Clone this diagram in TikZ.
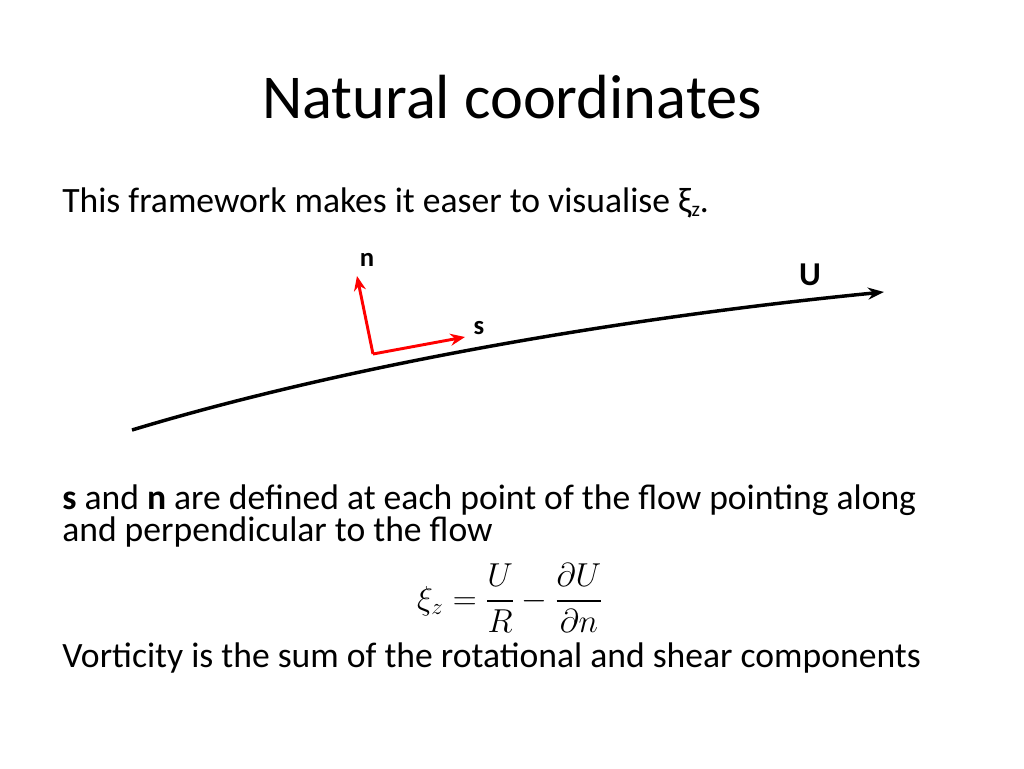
\documentclass[tikz,border=0pt]{standalone}
\usepackage{fontspec}
\setmainfont{Carlito}
\usepackage{amsmath}
\usetikzlibrary{arrows.meta}
\begin{document}
\begin{tikzpicture}[x=0.75pt,y=-0.75pt,
  body/.style={anchor=base west,inner sep=0pt,font=\fontsize{26.7}{28}\selectfont},
  vec/.style={red,line width=2.2pt,-{Stealth[length=11pt,width=9pt]}}]
\useasboundingbox (0,0) rectangle (1024,768);
\node[inner sep=0pt,font=\fontsize{46.8}{52}\selectfont] (title) at (512,97) {Natural coordinates};
\node[body] (t1) at (62,212) {This framework makes it easer to visualise ξ{\fontsize{16}{18}\selectfont\raisebox{-3pt}{z}}.};
\coordinate (c0) at (132,430);
\coordinate (c1) at (884,292);
\draw[line width=2.6pt,-{Stealth[length=12pt,width=9pt]}] (c0) .. controls (330,370) and (600,320) .. (c1);
\coordinate (o) at (373,354);
\coordinate (nt) at (357,276);
\coordinate (st) at (465,337);
\draw[vec] (o) -- (nt);
\draw[vec] (o) -- (st);
\node[font=\fontsize{20}{24}\selectfont\bfseries] (nl) at (367,260) {n};
\node[font=\fontsize{20}{24}\selectfont\bfseries] (sl) at (479,328) {s};
\node[font=\fontsize{25}{28}\selectfont\bfseries] (ul) at (810,275) {U};
\node[body] (t2) at (62,509) {\textbf{s} and \textbf{n} are defined at each point of the flow pointing along};
\node[body] (t3) at (62,541) {and perpendicular to the flow};
\node[inner sep=0pt,font=\fontsize{25}{28}\selectfont] (eq) at (510,598) {$\xi_z=\dfrac{U}{R}-\dfrac{\partial U}{\partial n}$};
\node[body] (t4) at (62,667) {Vorticity is the sum of the rotational and shear components};
\end{tikzpicture}
\end{document}
